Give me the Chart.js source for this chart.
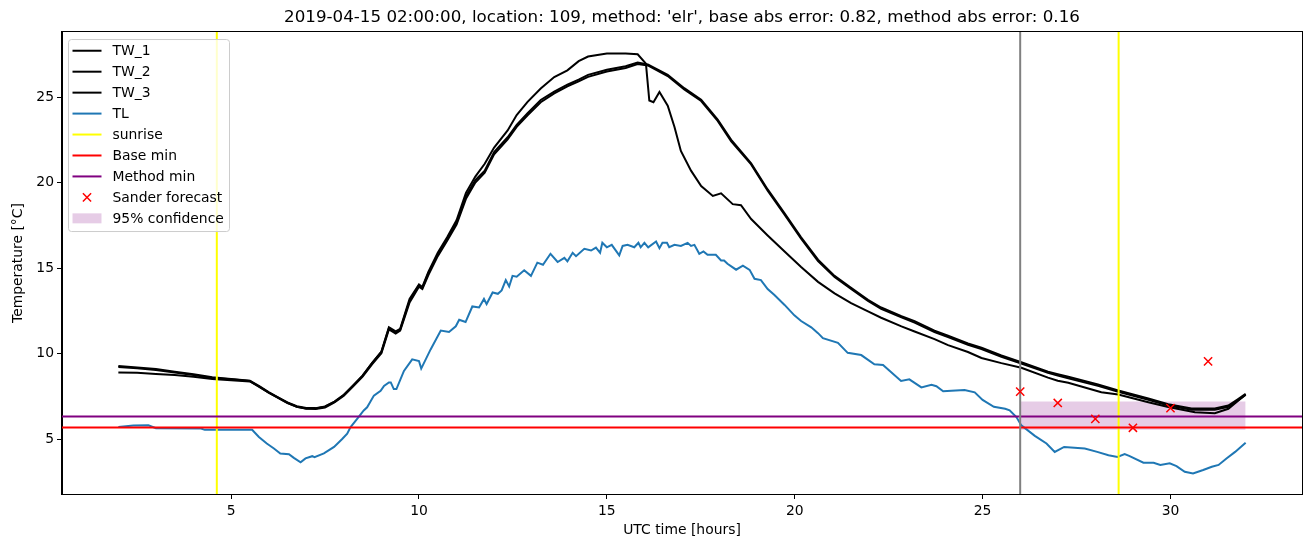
<!DOCTYPE html>
<html>
<head>
<meta charset="utf-8">
<script src="https://cdn.jsdelivr.net/npm/chart.js@4/dist/chart.umd.min.js"></script>
<style>
  html, body { margin: 0; padding: 0; background: #ffffff; }
  #c { display: block; }
</style>
</head>
<body>
<canvas id="c" width="1310" height="547"></canvas>
<script>
// ---------------- DATA ----------------
const chartTitle = "2019-04-15 02:00:00, location: 109, method: 'elr', base abs error: 0.82, method abs error: 0.16";
const xTicks = [5, 10, 15, 20, 25, 30];
const yTicks = [5, 10, 15, 20, 25];
const X_MIN = 0.5, X_MAX = 33.5;
const Y_MIN = 1.8, Y_MAX = 28.8;

// TW_1 (sensor that peaks highest and drops sharply after 16 h)
const tw1Time = [2.0,2.5,3.0,3.5,4.0,4.5,5.0,5.5,5.75,6.0,6.25,6.5,6.75,7.0,7.25,7.5,7.75,8.0,8.25,8.5,8.75,9.0,9.2,9.38,9.5,9.75,10.0,10.09,10.25,10.5,10.75,11.0,11.25,11.5,11.75,12.0,12.36,12.6,12.89,13.24,13.6,13.95,14.25,14.5,15.0,15.5,15.82,16.04,16.13,16.24,16.4,16.62,16.8,16.97,17.24,17.51,17.82,18.04,18.35,18.57,18.84,19.28,19.73,20.17,20.62,21.06,21.5,21.95,22.3,22.84,23.19,23.72,24.08,24.61,24.97,25.5,26.03,26.74,27.0,27.28,28.16,28.61,29.41,29.94,30.65,31.18,31.54,31.8,32.0];
const tw1Temp = [8.9,8.88,8.82,8.75,8.65,8.52,8.45,8.38,8.08,7.73,7.43,7.13,6.9,6.78,6.8,6.9,7.18,7.58,8.15,8.72,9.45,10.12,11.55,11.3,11.45,13.2,14.05,13.9,14.78,15.9,16.8,17.8,19.4,20.35,21.1,22.05,23.05,23.95,24.72,25.5,26.17,26.56,27.1,27.37,27.55,27.55,27.5,26.95,24.8,24.7,25.3,24.5,23.25,21.85,20.7,19.8,19.22,19.37,18.74,18.68,17.87,16.91,15.97,15.07,14.2,13.53,12.95,12.47,12.1,11.6,11.3,10.85,10.5,10.1,9.75,9.45,9.18,8.6,8.42,8.3,7.75,7.62,7.16,6.88,6.58,6.52,6.78,7.25,7.6];

// TW_2 and TW_3 (closely tracking pair)
const twPairTime = [2.0,2.5,3.0,3.5,4.0,4.5,5.0,5.5,5.75,6.0,6.25,6.5,6.75,7.0,7.25,7.5,7.75,8.0,8.25,8.5,8.75,9.0,9.2,9.38,9.5,9.75,10.0,10.09,10.25,10.5,10.75,11.0,11.25,11.5,11.75,12.0,12.36,12.6,12.89,13.24,13.6,13.95,14.25,14.5,15.0,15.5,15.82,16.09,16.62,17.06,17.51,17.95,18.31,18.84,19.28,19.73,20.17,20.62,21.06,21.5,21.95,22.3,22.84,23.19,23.72,24.08,24.61,24.97,25.5,26.03,26.74,27.0,27.28,28.07,28.61,29.41,29.94,30.56,31.18,31.54,31.8,32.0];
const tw2Temp = [9.28,9.2,9.1,8.95,8.8,8.62,8.52,8.42,8.1,7.75,7.45,7.15,6.93,6.83,6.82,6.92,7.2,7.6,8.15,8.72,9.45,10.1,11.5,11.25,11.41,13.1,14.0,13.85,14.7,15.8,16.7,17.65,19.2,20.15,20.7,21.78,22.65,23.38,24.05,24.83,25.32,25.72,26.02,26.3,26.6,26.8,27.02,26.9,26.3,25.52,24.85,23.68,22.5,21.12,19.6,18.2,16.8,15.5,14.55,13.85,13.15,12.7,12.2,11.9,11.35,11.05,10.6,10.35,9.9,9.5,8.95,8.8,8.65,8.2,7.85,7.38,7.05,6.8,6.8,6.97,7.35,7.65];
const tw3Temp = [9.22,9.15,9.05,8.9,8.76,8.58,8.5,8.4,8.06,7.72,7.42,7.12,6.9,6.8,6.77,6.86,7.15,7.55,8.1,8.66,9.38,10.02,11.42,11.18,11.35,13.0,13.92,13.78,14.6,15.7,16.6,17.55,19.05,20.0,20.58,21.65,22.53,23.26,23.94,24.7,25.21,25.62,25.92,26.18,26.49,26.7,26.93,26.85,26.23,25.44,24.77,23.61,22.41,21.06,19.52,18.12,16.72,15.42,14.48,13.78,13.08,12.62,12.12,11.82,11.27,10.97,10.52,10.27,9.82,9.42,8.88,8.72,8.57,8.12,7.78,7.3,6.97,6.72,6.72,6.9,7.28,7.6];

// TL (air temperature)
const tlTime = [2.0,2.4,2.8,3.0,4.2,4.3,5.56,5.74,5.95,6.14,6.31,6.54,6.67,6.85,6.98,7.16,7.22,7.47,7.74,7.95,8.09,8.18,8.36,8.53,8.62,8.8,8.98,9.07,9.2,9.25,9.33,9.4,9.6,9.82,10.0,10.06,10.31,10.58,10.8,10.98,11.07,11.24,11.42,11.6,11.73,11.8,11.96,12.1,12.2,12.31,12.4,12.49,12.6,12.8,12.98,13.15,13.3,13.5,13.69,13.87,13.95,14.09,14.18,14.4,14.58,14.71,14.82,14.88,15.0,15.13,15.33,15.42,15.55,15.73,15.84,15.9,16.0,16.1,16.31,16.4,16.48,16.6,16.66,16.8,16.97,17.15,17.24,17.33,17.46,17.57,17.68,17.9,18.04,18.12,18.21,18.44,18.62,18.8,18.93,19.1,19.28,19.46,19.73,19.99,20.17,20.44,20.62,20.75,21.15,21.41,21.77,22.12,22.35,22.83,23.05,23.37,23.64,23.77,23.95,24.17,24.52,24.79,25.0,25.3,25.6,25.72,25.9,26.03,26.39,26.7,26.92,27.17,27.72,28.05,28.35,28.59,28.78,28.9,29.28,29.55,29.73,29.98,30.16,30.38,30.6,30.87,31.1,31.28,31.49,31.72,32.0];
const tlTemp = [5.72,5.8,5.82,5.65,5.63,5.55,5.55,5.13,4.75,4.46,4.17,4.13,3.91,3.65,3.88,4.01,3.95,4.17,4.55,5.0,5.33,5.71,6.2,6.68,6.87,7.55,7.83,8.12,8.32,8.32,7.93,7.93,8.99,9.67,9.57,9.13,10.25,11.35,11.27,11.6,11.98,11.85,12.76,12.7,13.2,12.9,13.58,13.5,13.7,14.3,13.93,14.55,14.5,14.88,14.55,15.32,15.2,15.84,15.36,15.6,15.4,15.9,15.7,16.13,16.03,16.2,15.9,16.48,16.22,16.36,15.75,16.3,16.36,16.22,16.48,16.22,16.48,16.22,16.56,16.17,16.48,16.48,16.22,16.36,16.3,16.48,16.3,16.36,15.84,15.98,15.78,15.78,15.45,15.45,15.26,14.91,15.15,14.9,14.38,14.3,13.78,13.43,12.85,12.24,11.91,11.54,11.2,10.91,10.63,10.05,9.92,9.38,9.34,8.41,8.5,8.03,8.18,8.1,7.8,7.84,7.88,7.74,7.3,6.9,6.78,6.69,6.3,5.81,5.2,4.75,4.26,4.55,4.46,4.26,4.07,3.97,4.13,4.03,3.63,3.63,3.5,3.59,3.43,3.1,3.0,3.2,3.39,3.5,3.88,4.26,4.8];

const sunriseTimes = [4.62, 28.62];
const forecastStartTime = 26.0;
const baseMin = 5.69;
const methodMin = 6.33;
const forecastTime = [26, 27, 28, 29, 30, 31];
const forecastTemp = [7.78, 7.12, 6.19, 5.67, 6.82, 9.55];
const confTime = [26, 32];
const confLow = 5.56;
const confHigh = 7.2;

// ---------------- STYLE ----------------
const FONT = 'DejaVu Sans';
const TL_COLOR = '#1f77b4';
const CONF_COLOR = 'rgba(128,0,128,0.2)';
const LW = 2;

const pts = (ts, vs) => ts.map((t, i) => ({ x: t, y: vs[i] }));
const lineDs = (label, data, color, order, extra) => Object.assign({
  label, data, borderColor: color, backgroundColor: color, borderWidth: LW,
  pointRadius: 0, tension: 0, fill: false, order
}, extra || {});

const datasets = [
  lineDs('TW_1', pts(tw1Time, tw1Temp), '#000000', 12),
  lineDs('TW_2', pts(twPairTime, tw2Temp), '#000000', 11),
  lineDs('TW_3', pts(twPairTime, tw3Temp), '#000000', 10),
  lineDs('TL', pts(tlTime, tlTemp), TL_COLOR, 9),
  lineDs('sunrise', [{x: sunriseTimes[0], y: Y_MIN}, {x: sunriseTimes[0], y: Y_MAX}], '#ffff00', 8),
  lineDs('sunrise_2', [{x: sunriseTimes[1], y: Y_MIN}, {x: sunriseTimes[1], y: Y_MAX}], '#ffff00', 7),
  lineDs('Base min', [{x: X_MIN, y: baseMin}, {x: X_MAX, y: baseMin}], '#ff0000', 6),
  lineDs('Method min', [{x: X_MIN, y: methodMin}, {x: X_MAX, y: methodMin}], '#800080', 5),
  lineDs('forecast start', [{x: forecastStartTime, y: Y_MIN}, {x: forecastStartTime, y: Y_MAX}], '#808080', 4),
  {
    label: 'Sander forecast', data: pts(forecastTime, forecastTemp), showLine: false,
    pointStyle: 'crossRot', pointRadius: 5.8, pointBorderColor: '#ff0000', pointBorderWidth: 1.5,
    borderColor: '#ff0000', backgroundColor: '#ff0000', order: 3
  },
  {
    label: '95% confidence', data: confTime.map(t => ({x: t, y: confHigh})),
    borderWidth: 0, pointRadius: 0, borderColor: 'rgba(0,0,0,0)',
    backgroundColor: CONF_COLOR, fill: {target: {value: confLow}}, order: 20
  }
];

const legendItems = [
  {label: 'TW_1', type: 'line', color: '#000000'},
  {label: 'TW_2', type: 'line', color: '#000000'},
  {label: 'TW_3', type: 'line', color: '#000000'},
  {label: 'TL', type: 'line', color: TL_COLOR},
  {label: 'sunrise', type: 'line', color: '#ffff00'},
  {label: 'Base min', type: 'line', color: '#ff0000'},
  {label: 'Method min', type: 'line', color: '#800080'},
  {label: 'Sander forecast', type: 'cross', color: '#ff0000'},
  {label: '95% confidence', type: 'patch', color: CONF_COLOR}
];

const framePlugin = {
  id: 'frame',
  afterDatasetsDraw(chart) {
    const {ctx, chartArea: a} = chart;
    ctx.save();
    ctx.strokeStyle = '#000';
    ctx.lineWidth = 1;
    ctx.strokeRect(Math.round(a.left) - 0.5, Math.round(a.top) - 0.5, Math.round(a.right - a.left) + 1, Math.round(a.bottom - a.top) + 1);
    ctx.restore();
  }
};

const legendPlugin = {
  id: 'mplLegend',
  afterDraw(chart) {
    const {ctx, chartArea: a} = chart;
    const x0 = a.left + 6.5, y0 = a.top + 7.5, w = 161, h = 192;
    ctx.save();
    ctx.beginPath();
    if (ctx.roundRect) ctx.roundRect(x0, y0, w, h, 3); else ctx.rect(x0, y0, w, h);
    ctx.fillStyle = 'rgba(255,255,255,0.8)';
    ctx.fill();
    ctx.strokeStyle = '#cccccc';
    ctx.lineWidth = 1;
    ctx.stroke();
    const hx0 = a.left + 10.5, hx1 = a.left + 39.5, tx = a.left + 50.5;
    let y = a.top + 18.7;
    const step = 20.95;
    ctx.font = '13.9px "' + FONT + '"';
    ctx.textBaseline = 'middle';
    ctx.textAlign = 'left';
    legendItems.forEach(it => {
      if (it.type === 'line') {
        ctx.strokeStyle = it.color; ctx.lineWidth = LW;
        ctx.beginPath(); ctx.moveTo(hx0, y); ctx.lineTo(hx1, y); ctx.stroke();
      } else if (it.type === 'cross') {
        const cx = (hx0 + hx1) / 2, r = 4.1;
        ctx.strokeStyle = it.color; ctx.lineWidth = 1.5;
        ctx.beginPath();
        ctx.moveTo(cx - r, y - r); ctx.lineTo(cx + r, y + r);
        ctx.moveTo(cx - r, y + r); ctx.lineTo(cx + r, y - r);
        ctx.stroke();
      } else {
        ctx.fillStyle = it.color;
        ctx.fillRect(hx0, y - 5, hx1 - hx0, 10);
      }
      ctx.fillStyle = '#000';
      ctx.fillText(it.label, tx, y + 1);
      y += step;
    });
    ctx.restore();
  }
};

const tickFont = {family: FONT, size: 13.9};

new Chart(document.getElementById('c'), {
  type: 'line',
  data: { datasets },
  options: {
    responsive: false,
    animation: false,
    events: [],
    parsing: true,
    layout: { padding: { left: 0, right: 8, top: 0, bottom: 0 } },
    plugins: {
      legend: { display: false },
      tooltip: { enabled: false },
      title: {
        display: true, text: chartTitle, color: '#000', fullSize: false,
        font: {family: FONT, size: 16.7, weight: 'normal'},
        padding: {top: 8, bottom: 4}
      }
    },
    scales: {
      x: {
        type: 'linear', min: X_MIN, max: X_MAX,
        afterBuildTicks: s => { s.ticks = xTicks.map(v => ({value: v})); },
        afterFit: s => { s.height = 53; },
        ticks: { color: '#000', font: tickFont, padding: 4, maxRotation: 0, callback: v => String(v) },
        grid: { drawOnChartArea: false, drawTicks: true, tickLength: 5, tickColor: '#000', tickWidth: 1 },
        border: { display: true, color: '#000', width: 1 },
        title: { display: true, text: 'UTC time [hours]', color: '#000', font: tickFont, padding: {top: 2, bottom: 8} }
      },
      y: {
        type: 'linear', min: Y_MIN, max: Y_MAX,
        afterBuildTicks: s => { s.ticks = yTicks.map(v => ({value: v})); },
        afterFit: s => { s.width = 62; },
        ticks: { color: '#000', font: tickFont, padding: 3, callback: v => String(v) },
        grid: { drawOnChartArea: false, drawTicks: true, tickLength: 5, tickColor: '#000', tickWidth: 1 },
        border: { display: true, color: '#000', width: 1 },
        title: { display: true, text: 'Temperature [°C]', color: '#000', font: tickFont, padding: {top: 10, bottom: 2} }
      }
    }
  },
  plugins: [framePlugin, legendPlugin]
});
</script>
</body>
</html>
